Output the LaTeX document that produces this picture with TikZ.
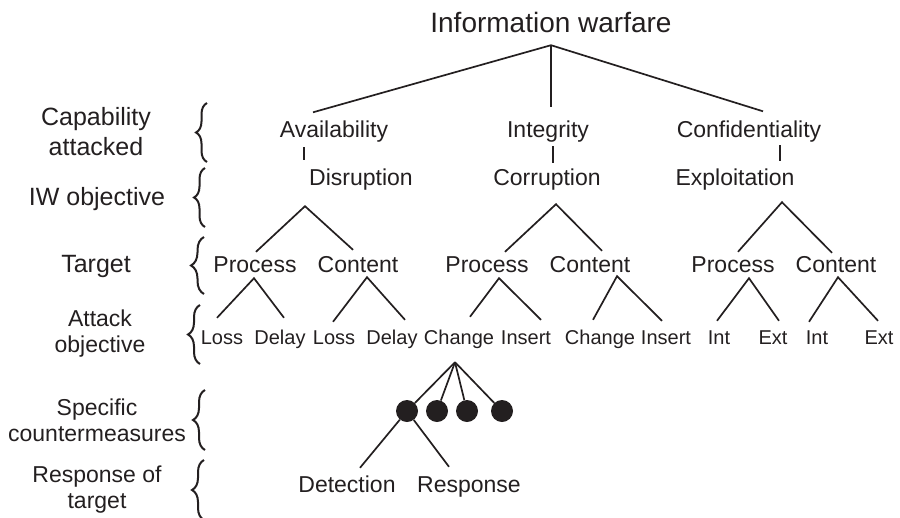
\documentclass[tikz,border=0pt]{standalone}
\usepackage{fontspec}
\setmainfont{Liberation Sans}
\usetikzlibrary{decorations.pathreplacing}
\definecolor{inkgray}{HTML}{231F20}
\tikzset{
	toplabel/.style={
			font=\fontsize{28}{34}\selectfont,
			text=inkgray,
			inner sep=0pt,
			text height=20pt,
			text depth=0pt,
			anchor=base
		},
	levelnode/.style={
			font=\fontsize{23}{27}\selectfont,
			text=inkgray,
			inner sep=0pt,
			text height=16.5pt,
			text depth=0pt,
			anchor=base
		},
	attacknode/.style={
			levelnode,
			font=\fontsize{20}{24}\selectfont,
			text height=14.3pt
		},
	sidelabel/.style={
			font=\fontsize{25}{30}\selectfont,
			text=inkgray,
			align=center
		},
	sidelabelsmall/.style={
			sidelabel,
			font=\fontsize{23}{26}\selectfont
		},
	dotnode/.style={
			circle,
			fill=inkgray,
			minimum size=22pt,
			inner sep=0pt
		},
	branch/.style={
			draw=inkgray,
			line width=1.7pt
		},
	levelbrace/.style={
			draw=inkgray,
			line width=2pt,
			decorate,
			decoration={brace, amplitude=#1}
		}
}
\begin{document}
\begin{tikzpicture}[x=1pt, y=-1pt]
\useasboundingbox (0,0) rectangle (900,517);

\node[toplabel] (iw) at (551,32) {Information warfare};

\node[levelnode] (avail) at (334,137) {Availability};
\node[levelnode] (integ) at (548,137) {Integrity};
\node[levelnode] (conf) at (749,137) {Confidentiality};

\node[levelnode] (disr) at (361,185) {Disruption};
\node[levelnode] (corr) at (547,185) {Corruption};
\node[levelnode] (expl) at (735,185) {Exploitation};

\node[levelnode] (dproc) at (255,272) {Process};
\node[levelnode] (dcont) at (358,272) {Content};
\node[levelnode] (cproc) at (487,272) {Process};
\node[levelnode] (ccont) at (590,272) {Content};
\node[levelnode] (eproc) at (733,272) {Process};
\node[levelnode] (econt) at (836,272) {Content};

\node[attacknode] (dploss) at (222,344) {Loss};
\node[attacknode] (dpdelay) at (280,344) {Delay};
\node[attacknode] (dcloss) at (334,344) {Loss};
\node[attacknode] (dcdelay) at (392,344) {Delay};
\node[attacknode] (cpchange) at (459,344) {Change};
\node[attacknode] (cpins) at (526,344) {Insert};
\node[attacknode] (ccchange) at (600,344) {Change};
\node[attacknode] (ccins) at (666,344) {Insert};
\node[attacknode] (epint) at (719,344) {Int};
\node[attacknode] (epext) at (773,344) {Ext};
\node[attacknode] (ecint) at (817,344) {Int};
\node[attacknode] (ecext) at (879,344) {Ext};

\node[dotnode] (m1) at (407,411) {};
\node[dotnode] (m2) at (437,411) {};
\node[dotnode] (m3) at (467,411) {};
\node[dotnode] (m4) at (502,411) {};

\node[levelnode] (det) at (347,492) {Detection};
\node[levelnode] (resp) at (469,492) {Response};

% row labels
\node[sidelabel] (capab) at (96,132) {Capability\\attacked};
\node[sidelabel, anchor=base] (iwobj) at (97,205) {IW objective};
\node[sidelabel, anchor=base] (targ) at (96,272) {Target};
\node[sidelabelsmall] (atk) at (100,334) {Attack\\objective};
\node[sidelabelsmall] (spec) at (97,420) {Specific\\countermeasures};
\node[sidelabelsmall] (resof) at (97,489.5) {Response of\\target};

\draw[levelbrace=11pt] (207,162) -- (207,103);
\draw[levelbrace=11pt] (205,227) -- (205,168);
\draw[levelbrace=13pt] (204,294) -- (204,237);
\draw[levelbrace=12pt] (200,364) -- (200,305);
\draw[levelbrace=12pt] (205,450) -- (205,390);
\draw[levelbrace=12pt] (204,520) -- (204,460);

\draw[branch] ([shift={(-21,-8)}]avail.north) -- ([shift={(0,13)}]iw.south) -- ([shift={(14,-9)}]conf.north);
\draw[branch] ([shift={(0,13)}]iw.south) -- ([shift={(3,-13)}]integ.north);

\draw[branch] ([shift={(-30,10)}]avail.south) -- ([shift={(-57,-8)}]disr.north);
\draw[branch] ([shift={(5,9)}]integ.south) -- ([shift={(6,-5)}]corr.north);
\draw[branch] ([shift={(31,8)}]conf.south) -- ([shift={(45,-7)}]expl.north);

\draw[branch] ([shift={(1,-3.5)}]dproc.north) -- ([shift={(-56,21)}]disr.south) -- ([shift={(-5,-5.5)}]dcont.north);
\draw[branch] ([shift={(18,-3.5)}]cproc.north) -- ([shift={(9,19)}]corr.south) -- ([shift={(12,-4.5)}]ccont.north);
\draw[branch] ([shift={(5,-3.5)}]eproc.north) -- ([shift={(47,17)}]expl.south) -- ([shift={(-4,-2.5)}]econt.north);

\draw[branch] ([shift={(-5,-11.7)}]dploss.north) -- ([shift={(-1,6)}]dproc.south) -- ([shift={(4,-11.7)}]dpdelay.north);
\draw[branch] ([shift={(-1,-7.7)}]dcloss.north) -- ([shift={(9,5)}]dcont.south) -- ([shift={(13,-9.7)}]dcdelay.north);
\draw[branch] ([shift={(11,-12.7)}]cpchange.north) -- ([shift={(12,6)}]cproc.south) -- ([shift={(15,-9.7)}]cpins.north);
\draw[branch] ([shift={(-7,-9.7)}]ccchange.north) -- ([shift={(27,4)}]ccont.south) -- ([shift={(-4,-8.7)}]ccins.north);
\draw[branch] ([shift={(-2,-8.7)}]epint.north) -- ([shift={(16,6)}]eproc.south) -- ([shift={(6,-8.7)}]epext.north);
\draw[branch] ([shift={(-8,-7.7)}]ecint.north) -- ([shift={(2,5)}]econt.south) -- ([shift={(-1,-8.7)}]ecext.north);

\foreach \m in {m1,m2,m3,m4}
	\draw[branch] ([shift={(-4,18)}]cpchange.south) -- (\m);

\draw[branch] (m1) -- ([shift={(13,-7.5)}]det.north);
\draw[branch] (m1) -- ([shift={(-20,-8.5)}]resp.north);
\end{tikzpicture}
\end{document}
